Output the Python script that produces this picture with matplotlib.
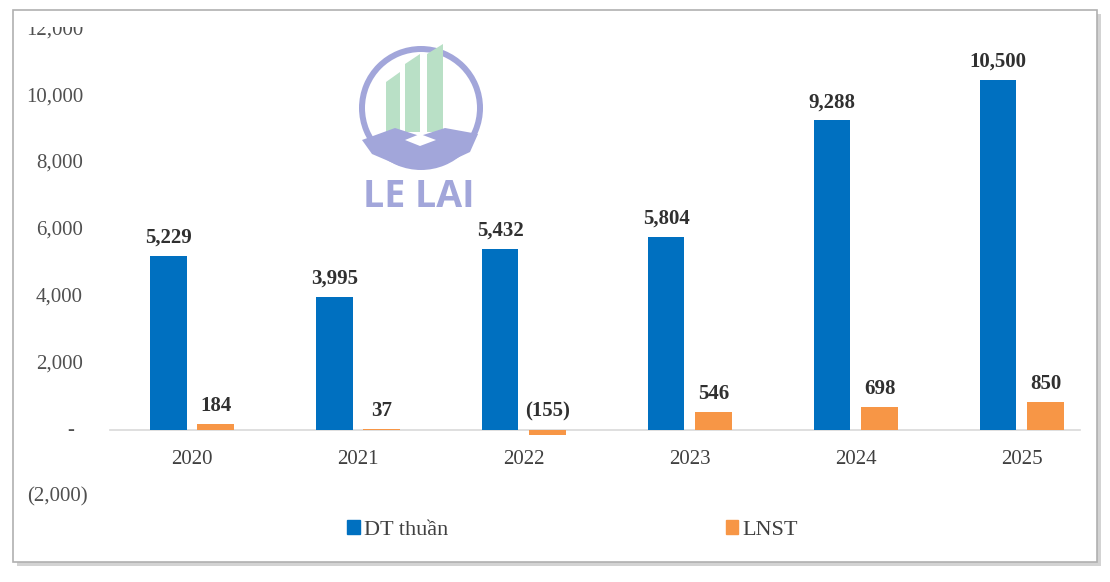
import matplotlib
matplotlib.use("Agg")
import matplotlib.pyplot as plt
from matplotlib.patches import Rectangle, Wedge, Polygon
from matplotlib.transforms import Bbox

years = ["2020", "2021", "2022", "2023", "2024", "2025"]
dt_thuan = [5229, 3995, 5432, 5804, 9288, 10500]
lnst = [184, 37, -155, 546, 698, 850]
y_ticks = [-2000, 0, 2000, 4000, 6000, 8000, 10000, 12000]

BLUE = "#0070C0"
ORANGE = "#F79646"
LOGO = "#a2a6da"
GREEN = "#b9e0c6"

plt.rcParams["font.family"] = ["Liberation Serif", "DejaVu Serif"]

fig = plt.figure(figsize=(11.1, 5.82), dpi=100)

# frame with shadow (pixel coords overlay)
bg = fig.add_axes([0, 0, 1, 1], zorder=0)
bg.set_xlim(0, 1110)
bg.set_ylim(582, 0)
bg.axis("off")
bg.add_patch(Rectangle((17, 14), 1084, 552, facecolor="#c8c8c8", edgecolor="none", alpha=0.8))
bg.add_patch(Rectangle((13, 10), 1084, 552, facecolor="white", edgecolor="#b0b0b0", lw=1.2))

# logo watermark
bg.add_patch(Wedge((421, 108), 62, 0, 360, width=6, facecolor=LOGO, edgecolor="none"))
bg.add_patch(Polygon([(386, 132), (386, 82), (400, 72), (400, 132)], facecolor=GREEN, edgecolor="none"))
bg.add_patch(Polygon([(405, 132), (405, 64), (420, 54), (420, 132)], facecolor=GREEN, edgecolor="none"))
bg.add_patch(Polygon([(427, 132), (427, 54), (443, 44), (443, 132)], facecolor=GREEN, edgecolor="none"))
bg.add_patch(Polygon([(362, 140), (395, 128), (420, 136), (445, 128), (478, 134),
                      (470, 152), (440, 166), (400, 166), (372, 154)],
                     facecolor=LOGO, edgecolor="none"))
bg.add_patch(Polygon([(405, 140), (420, 134), (436, 140), (420, 146)], facecolor="white", edgecolor="none"))
bg.text(419, 197, "LE LAI", ha="center", va="center", fontsize=27, fontweight="bold",
        color=LOGO, family=["Open Sans", "DejaVu Sans"])

ax = fig.add_axes([110 / 1110, 1 - 497 / 582, 970 / 1110, (497 - 30) / 582], zorder=1)
ax.patch.set_alpha(0)

x = list(range(len(years)))
w = 0.22
off = 0.143
ax.bar([i - off for i in x], dt_thuan, width=w, color=BLUE, zorder=2)
ax.bar([i + off for i in x], lnst, width=w, color=ORANGE, zorder=2)

for i in x:
    for xv, v in ((i - off, dt_thuan[i]), (i + off, lnst[i])):
        s = f"({abs(v):,})" if v < 0 else f"{v:,}"
        ax.annotate(s, (xv, max(v, 0)), xytext=(0, 6), textcoords="offset points",
                    ha="center", va="bottom", fontsize=15, fontweight="bold", color="#303030")

ax.set_xlim(-0.494, 5.35)
ax.set_ylim(-2000, 12000)
for sp in ax.spines.values():
    sp.set_visible(False)
ax.spines["bottom"].set_visible(True)
ax.spines["bottom"].set_position(("data", 0))
ax.spines["bottom"].set_color("#d9d9d9")
ax.spines["bottom"].set_linewidth(1.2)
ax.spines["bottom"].set_zorder(1)
ax.set_xticks(x, years)
ax.tick_params(axis="x", length=0, pad=14, labelsize=15, labelcolor="#404040")
ax.set_yticks([])

clip = Bbox.from_extents(0, 0, 1110, 555)
for t in y_ticks:
    if t < 0:
        t_obj = ax.text(-0.0227, t, f"({abs(t):,})", ha="right", va="center", fontsize=15,
                        color="#505050", transform=ax.get_yaxis_transform())
    elif t == 0:
        t_obj = ax.text(-0.041, t, "-", ha="center", va="center", fontsize=15,
                        color="#505050", transform=ax.get_yaxis_transform())
    else:
        t_obj = ax.text(-0.0278, t, f"{t:,}", ha="right", va="center", fontsize=15,
                        color="#505050", transform=ax.get_yaxis_transform())
    t_obj.set_clip_box(clip)
    t_obj.set_clip_on(True)

h1 = Rectangle((0, 0), 1, 1, color=BLUE)
h2 = Rectangle((0, 0), 1, 1, color=ORANGE)
leg = fig.legend([h1, h2], ["DT thuần", "LNST"], loc="center", bbox_to_anchor=(0.516, 0.089),
                 ncol=2, frameon=False, handlelength=0.55, handleheight=0.55,
                 handletextpad=0.2, columnspacing=12.5, prop={"size": 16})
for txt in leg.get_texts():
    txt.set_color("#404040")

fig.savefig("out.png", dpi=100)
